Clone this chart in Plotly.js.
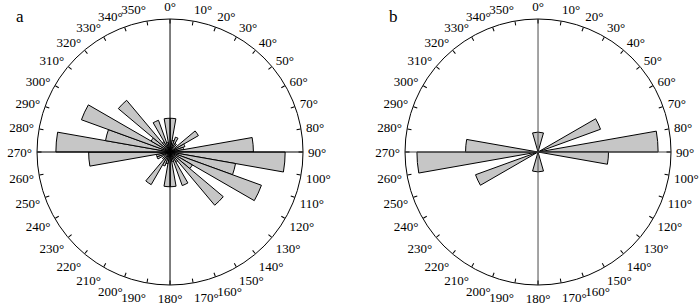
<!DOCTYPE html>
<html>
<head>
<meta charset="utf-8">
<script src="https://cdn.plot.ly/plotly-3.0.1.min.js"></script>
<style>html,body{margin:0;padding:0;background:#fff;}#chart{width:700px;height:306px;}</style>
</head>
<body>
<div id="chart"></div>
<script>
// Direction ticks (degrees)
const tickAngles = [0,10,20,30,40,50,60,70,80,90,100,110,120,130,140,150,160,170,180,190,200,210,220,230,240,250,260,270,280,290,300,310,320,330,340,350];
const tickLabels = ["0°","10°","20°","30°","40°","50°","60°","70°","80°","90°","100°","110°","120°","130°","140°","150°","160°","170°","180°","190°","200°","210°","220°","230°","240°","250°","260°","270°","280°","290°","300°","310°","320°","330°","340°","350°"];

// Panel a: 10° bins (bin centres) and frequencies
const binsA = [5,15,25,35,45,55,65,75,85,95,105,115,125,135,145,155,165,175,185,195,205,215,225,235,245,255,265,275,285,295,305,315,325,335,345,355];
const valuesA = [3.4,1.2,1.6,1.0,0,3.3,1.6,1.4,8.4,11.6,6.7,9.8,2.6,7.0,1.2,3.6,1.0,3.5,3.5,1.2,1.5,3.8,1.0,0,1.4,1.4,8.2,11.5,6.6,9.5,2.2,6.8,1.2,3.4,1.0,3.4];

// Panel b: directions and frequencies
const dirsB = [0,65,85,95,180,245,265,275];
const valuesB = [2.0,6.7,12.1,7.1,2.0,6.7,12.2,7.3];

const RMAX = 13.4;
const widthsA = binsA.map(() => 10);
const widthsB = [32,10,10,10,32,10,10,10];

const barStyle = {color:'#c6c6c6', line:{color:'#000', width:1}};
const FONT = 'Liberation Serif';

const traces = [
  {type:'barpolar', subplot:'polar', r:valuesA, theta:binsA, width:widthsA, marker:barStyle, hoverinfo:'skip'},
  {type:'scatterpolar', subplot:'polar', mode:'lines', r:[RMAX,RMAX,null,RMAX,RMAX], theta:[0,180,null,90,270], line:{color:'#000', width:1}, hoverinfo:'skip'},
  {type:'barpolar', subplot:'polar2', r:valuesB, theta:dirsB, width:widthsB, marker:barStyle, hoverinfo:'skip'},
  {type:'scatterpolar', subplot:'polar2', mode:'lines', r:[RMAX,RMAX,null,RMAX,RMAX], theta:[0,180,null,90,270], line:{color:'#4a4a4a', width:1}, hoverinfo:'skip'},
  {type:'scatterpolar', subplot:'polar3', r:[], theta:[], mode:'markers', hoverinfo:'skip'},
  {type:'scatterpolar', subplot:'polar4', r:[], theta:[], mode:'markers', hoverinfo:'skip'}
];

function labelAxis(){
  return {
    rotation:90, direction:'clockwise',
    tickmode:'array', tickvals:tickAngles, ticktext:tickLabels,
    ticks:'outside', ticklen:2, tickcolor:'rgba(0,0,0,0)', tickwidth:1,
    showline:true, linecolor:'#000', linewidth:1,
    showgrid:false,
    tickfont:{family:FONT, size:13, color:'#000'}
  };
}
function tickAxis(){
  return {
    rotation:90, direction:'clockwise',
    tickmode:'array', tickvals:tickAngles,
    ticks:'inside', ticklen:4, tickcolor:'#000', tickwidth:1,
    showline:false, showgrid:false, showticklabels:false
  };
}
function radAxis(){
  return {visible:false, range:[0,RMAX]};
}
const domA = {x:[0.0529,0.4329], y:[0.0686,0.9379]};
const domB = {x:[0.5786,0.9586], y:[0.0686,0.9379]};

const layout = {
  width:700, height:306,
  margin:{l:0,r:0,t:0,b:0},
  paper_bgcolor:'#fff',
  showlegend:false,
  polar:{domain:domA, bgcolor:'#fff', angularaxis:labelAxis(), radialaxis:radAxis(), bargap:0},
  polar2:{domain:domB, bgcolor:'#fff', angularaxis:labelAxis(), radialaxis:radAxis(), bargap:0},
  polar3:{domain:domA, bgcolor:'rgba(0,0,0,0)', angularaxis:tickAxis(), radialaxis:radAxis()},
  polar4:{domain:domB, bgcolor:'rgba(0,0,0,0)', angularaxis:tickAxis(), radialaxis:radAxis()},
  annotations:[
    {text:'a', x:20/700, y:1-16/306, xref:'paper', yref:'paper', showarrow:false, xanchor:'center', yanchor:'middle', font:{family:FONT, size:17, color:'#000'}},
    {text:'b', x:393/700, y:1-16/306, xref:'paper', yref:'paper', showarrow:false, xanchor:'center', yanchor:'middle', font:{family:FONT, size:17, color:'#000'}}
  ]
};

Plotly.newPlot('chart', traces, layout, {staticPlot:true, displayModeBar:false});
</script>
</body>
</html>
